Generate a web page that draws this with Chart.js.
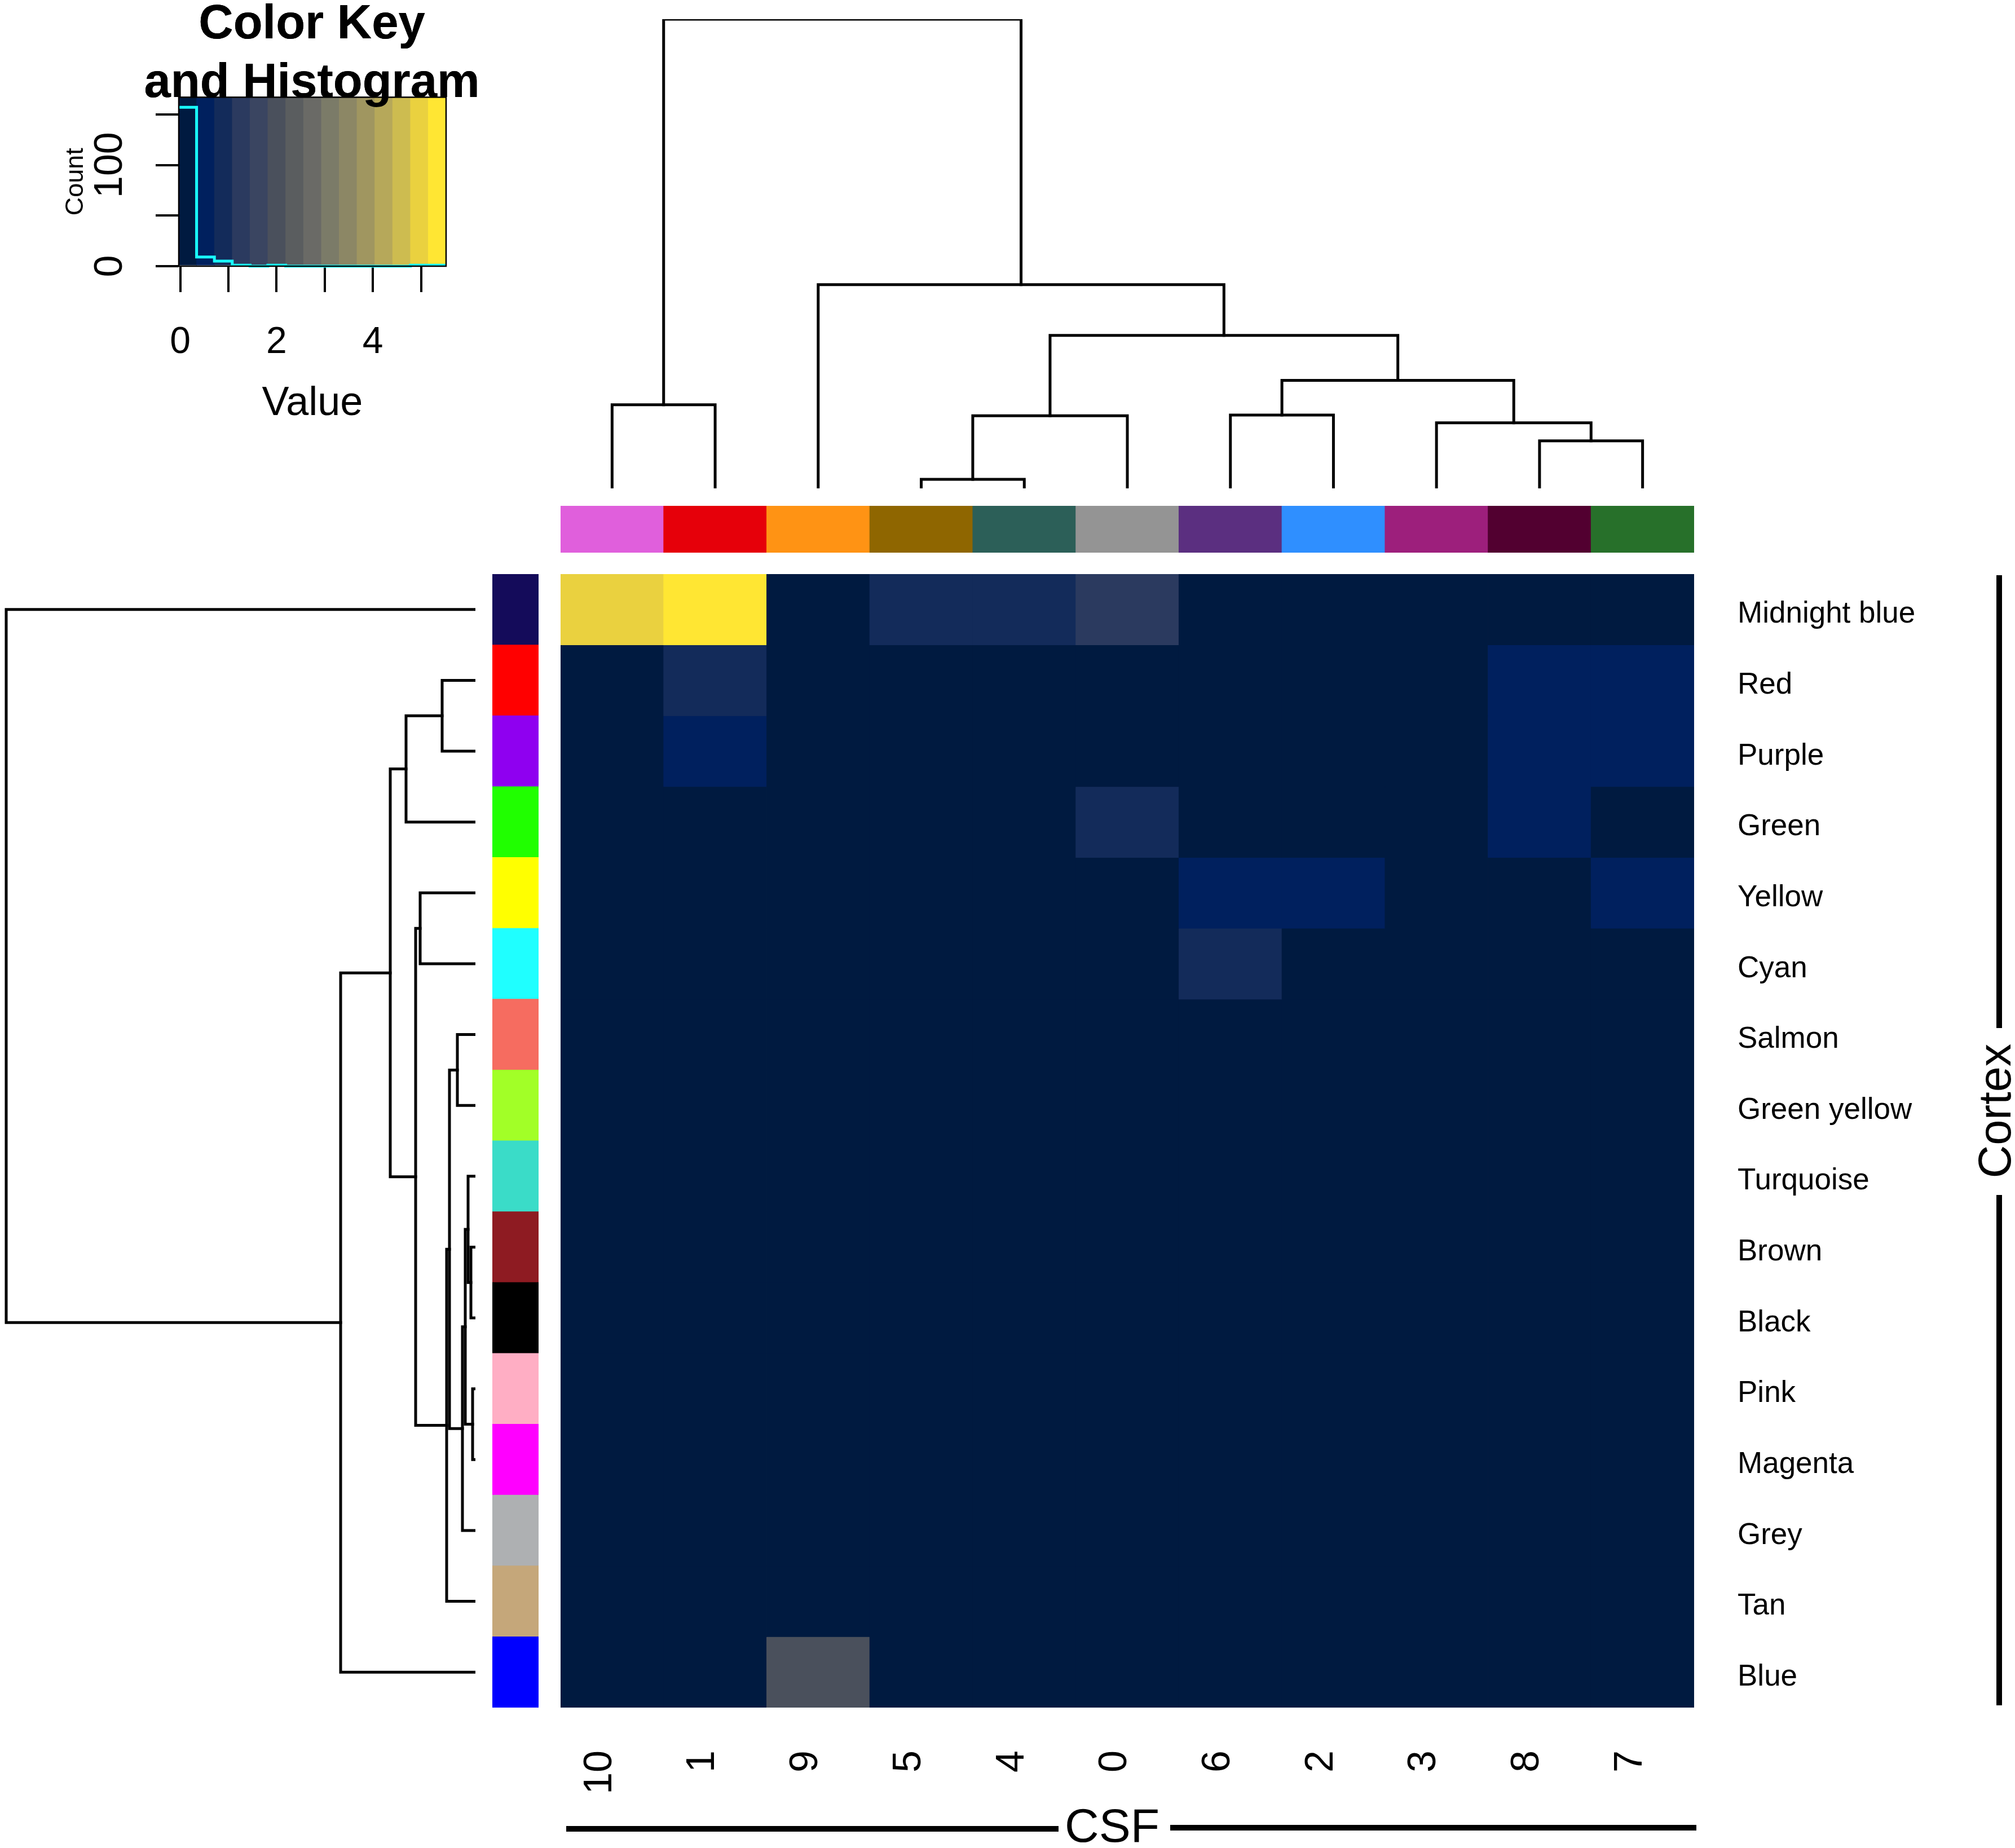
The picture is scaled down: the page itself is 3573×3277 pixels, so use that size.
<!DOCTYPE html>
<html>
<head>
<meta charset="utf-8">
<style>
html,body{margin:0;padding:0;background:#fff;width:3573px;height:3277px;overflow:hidden}
canvas{position:absolute;display:block}
</style>
<script src="https://cdn.jsdelivr.net/npm/chart.js@4"></script>
</head>
<body>
<canvas id="key" width="1108" height="800" style="left:0;top:0"></canvas>
<canvas id="colTree" width="2010" height="832" style="left:994px;top:34px"></canvas>
<canvas id="colStrip" width="2010" height="83" style="left:994px;top:897px"></canvas>
<canvas id="rowTree" width="843" height="2010" style="left:0;top:1018px"></canvas>
<canvas id="rowStrip" width="82" height="2010" style="left:873px;top:1018px"></canvas>
<canvas id="heat" width="2579" height="2259" style="left:994px;top:1018px"></canvas>
<script>
const FONT = '"Liberation Sans", Arial, sans-serif';

const colLabels = ['10','1','9','5','4','0','6','2','3','8','7'];
const colColors = ['#E05FDC','#E6000A','#FF9314','#8F6600','#2C5F58','#949494','#5B2F80','#2F8FFF','#9D1F7C','#520030','#27702A'];
const rowLabels = ['Midnight blue','Red','Purple','Green','Yellow','Cyan','Salmon','Green yellow','Turquoise','Brown','Black','Pink','Magenta','Grey','Tan','Blue'];
const rowColors = ['#140B5A','#FF0000','#8F00F0','#20FF00','#FFFF00','#1FFFFF','#F66C60','#A2FF27','#3ADCC8','#8E1B22','#000000','#FFAEC4','#FF00FF','#AEB0B2','#C5A77A','#0000FF'];

const rowMidnightBlue = [5.0,5.4,0,0.9,0.9,1.3,0,0,0,0,0];
const rowRed          = [0,0.9,0,0,0,0,0,0,0,0.5,0.5];
const rowPurple       = [0,0.5,0,0,0,0,0,0,0,0.5,0.5];
const rowGreen        = [0,0,0,0,0,0.9,0,0,0,0.5,0];
const rowYellow       = [0,0,0,0,0,0,0.5,0.5,0,0,0.5];
const rowCyan         = [0,0,0,0,0,0,0.9,0,0,0,0];
const rowSalmon       = [0,0,0,0,0,0,0,0,0,0,0];
const rowGreenYellow  = [0,0,0,0,0,0,0,0,0,0,0];
const rowTurquoise    = [0,0,0,0,0,0,0,0,0,0,0];
const rowBrown        = [0,0,0,0,0,0,0,0,0,0,0];
const rowBlack        = [0,0,0,0,0,0,0,0,0,0,0];
const rowPink         = [0,0,0,0,0,0,0,0,0,0,0];
const rowMagenta      = [0,0,0,0,0,0,0,0,0,0,0];
const rowGrey         = [0,0,0,0,0,0,0,0,0,0,0];
const rowTan          = [0,0,0,0,0,0,0,0,0,0,0];
const rowBlue         = [0,0,2.0,0,0,0,0,0,0,0,0];
const matrix = [rowMidnightBlue,rowRed,rowPurple,rowGreen,rowYellow,rowCyan,rowSalmon,rowGreenYellow,rowTurquoise,rowBrown,rowBlack,rowPink,rowMagenta,rowGrey,rowTan,rowBlue];

const keyBreaks = [-0.03,0.34,0.71,1.08,1.45,1.82,2.19,2.56,2.93,3.30,3.67,4.04,4.41,4.78,5.15,5.52];
const keyColors = ['#001A40','#00205E','#132B5A','#2B3A5F','#3A4561','#4A505C','#5A5D5F','#6A6A66','#7B7B68','#8C8765','#A09660','#B6A85A','#CDBC50','#EAD13F','#FFE633'];
const keyCounts = [157,9,5,1,0,1,0,0,0,0,0,0,0,1,1];
const keyXTicks = [0,1,2,3,4,5];
const keyYTicks = [0,50,100,150];

const colMergeA = [-1,-4,2,-7,-10,-9,4,3,-3,1];
const colMergeB = [-2,-5,-6,-8,-11,5,6,7,8,9];
const colMergeH = [65,7,56.5,57,37,51,84,119,158.5,365];

const rowMergeA = [-10,-12,-9,3,4,-7,6,7,-5,9,-2,11,12,13,-1];
const rowMergeB = [-11,-13,1,2,-14,-8,5,-15,-6,8,-3,-4,10,-16,14];
const rowMergeH = [8,5,13,18,23,32,46,51,98,106,59,123,151,239,832];

function colorOf(v){
  for(let i=0;i<keyColors.length;i++){ if(v<keyBreaks[i+1]) return keyColors[i]; }
  return keyColors[keyColors.length-1];
}
function treeLines(A,B,H,vertical){
  const pos=[],hgt=[],out=[];
  const get=n=>n<0?{p:-n-1,h:0}:{p:pos[n-1],h:hgt[n-1]};
  A.forEach((a,i)=>{
    const l=get(a),r=get(B[i]),h=H[i];
    pos[i]=(l.p+r.p)/2; hgt[i]=h;
    const pts=[[l.p,l.h],[l.p,h],[r.p,h],[r.p,r.h]];
    out.push({
      data:pts.map(q=>vertical?{x:q[0],y:q[1]}:{x:q[1],y:q[0]}),
      showLine:true,pointRadius:0,borderColor:'#000',borderWidth:5,tension:0,clip:false,
      borderCapStyle:'square',borderJoinStyle:'miter'
    });
  });
  return out;
}
const noPad=s=>{s.paddingLeft=0;s.paddingRight=0;s.paddingTop=0;s.paddingBottom=0;};
const base={responsive:false,animation:false,devicePixelRatio:1,maintainAspectRatio:false,
  events:[],plugins:{legend:{display:false},tooltip:{enabled:false},title:{display:false}},layout:{padding:0}};
const hidden=(o)=>Object.assign({display:false},o);

/* column dendrogram */
new Chart(document.getElementById('colTree'),{type:'scatter',
  data:{datasets:treeLines(colMergeA,colMergeB,colMergeH,true)},
  options:{...base,scales:{x:hidden({type:'linear',min:-0.5,max:10.5}),y:hidden({type:'linear',min:0,max:365})}}});

/* row dendrogram */
new Chart(document.getElementById('rowTree'),{type:'scatter',
  data:{datasets:treeLines(rowMergeA,rowMergeB,rowMergeH,false)},
  options:{...base,scales:{x:hidden({type:'linear',min:0,max:843,reverse:true}),y:hidden({type:'linear',min:-0.5,max:15.5,reverse:true})}}});

/* column colour strip */
new Chart(document.getElementById('colStrip'),{type:'bar',
  data:{labels:colLabels,datasets:[{data:colLabels.map(()=>1),backgroundColor:colColors,barPercentage:1,categoryPercentage:1,borderWidth:0,inflateAmount:0.4}]},
  options:{...base,scales:{x:hidden({type:'category'}),y:hidden({min:0,max:1})}}});

/* row colour strip */
new Chart(document.getElementById('rowStrip'),{type:'bar',
  data:{labels:rowLabels,datasets:[{data:rowLabels.map(()=>1),backgroundColor:rowColors,barPercentage:1,categoryPercentage:1,borderWidth:0,inflateAmount:0.4}]},
  options:{...base,indexAxis:'y',scales:{y:hidden({type:'category'}),x:hidden({min:0,max:1})}}});

/* heatmap */
const heatDecor={id:'heatDecor',afterDraw(chart){
  const c=chart.ctx,ox=994,oy=1018;
  c.save();
  c.fillStyle='#000';
  c.fillRect(1004-ox,3238-oy,873,10);
  c.fillRect(2075-ox,3236-oy,933,10);
  c.fillRect(3540-ox,1020-oy,10,803);
  c.fillRect(3540-ox,2119-oy,10,905);
  c.font='84px '+FONT;c.textAlign='center';c.textBaseline='middle';
  c.fillText('CSF',1972-ox,3243-oy);
  c.translate(3543-ox,1970-oy);c.rotate(-Math.PI/2);
  c.font='81px '+FONT;
  c.fillText('Cortex',0,0);
  c.restore();
}};
new Chart(document.getElementById('heat'),{type:'bar',
  data:{labels:colLabels,datasets:matrix.map((row,i)=>({
    label:rowLabels[i],
    data:row.map(()=>[i,i+1]),
    backgroundColor:row.map(colorOf),
    barPercentage:1,categoryPercentage:1,grouped:false,borderWidth:0,inflateAmount:0.4
  }))},
  options:{...base,
    scales:{
      x:{type:'category',position:'bottom',
        grid:{display:false,drawTicks:false},border:{display:false},
        ticks:{autoSkip:false,minRotation:90,maxRotation:90,padding:76,color:'#000',font:{family:FONT,size:70},labelOffset:-21},
        afterFit(s){s.height=249;noPad(s);}},
      y:{type:'linear',position:'right',min:0,max:16,reverse:true,
        grid:{display:false,drawTicks:false},border:{display:false},
        ticks:{autoSkip:false,padding:77,color:'#000',font:{family:FONT,size:53},labelOffset:9,
          callback:(v,i)=>rowLabels[i]},
        afterBuildTicks(s){s.ticks=rowLabels.map((_,i)=>({value:i+0.5}));},
        afterFit(s){s.width=569;noPad(s);}}
    }},
  plugins:[heatDecor]});

/* colour key and histogram */
const keyTop={id:'keyTop',
  afterLayout(chart){const t=chart.titleBlock;t.left=0;t.right=1106;},
  afterDatasetsDraw(chart){
    const a=chart.chartArea,c=chart.ctx;
    c.save();c.strokeStyle='#000';c.lineWidth=2.5;c.strokeRect(a.left,a.top,a.right-a.left,a.bottom-a.top);c.restore();
    chart.titleBlock.draw();
  }};
new Chart(document.getElementById('key'),{type:'bar',
  data:{datasets:[
    {type:'line',order:0,data:keyBreaks.map((b,i)=>({x:b,y:keyCounts[Math.min(i,keyCounts.length-1)]})),
      borderColor:'#19FFFF',borderWidth:5,pointRadius:0,stepped:true,clip:false,borderJoinStyle:'miter',fill:false},
    {type:'bar',order:1,data:keyColors.map((_,i)=>({x:(keyBreaks[i]+keyBreaks[i+1])/2,y:167})),
      backgroundColor:keyColors,barPercentage:1,categoryPercentage:1,borderWidth:0,inflateAmount:0.4}
  ]},
  options:{...base,
    layout:{padding:{right:317}},
    plugins:{...base.plugins,
      title:{display:true,text:['Color Key','and Histogram'],color:'#000',
        font:{family:FONT,size:85,weight:'bold',lineHeight:1.22},padding:{top:-7,bottom:-28}}},
    scales:{
      x:{type:'linear',min:-0.03,max:5.52,position:'bottom',offset:false,
        grid:{offset:false,drawOnChartArea:false,color:'#000',lineWidth:4,tickLength:46},border:{display:false},
        ticks:{autoSkip:false,maxRotation:0,padding:50,color:'#000',font:{family:FONT,size:66},
          callback:(v)=>(v%2===0?String(v):'')},
        afterBuildTicks(s){s.ticks=keyXTicks.map(v=>({value:v}));},
        title:{display:true,text:'Value',color:'#000',font:{family:FONT,size:72},padding:{top:0,bottom:41}},
        afterFit(s){s.height=328;noPad(s);}},
      y:{type:'linear',min:0,max:167,position:'left',
        grid:{drawOnChartArea:false,color:'#000',lineWidth:4,tickLength:41},border:{display:false},
        ticks:{autoSkip:false,minRotation:90,maxRotation:90,crossAlign:'center',padding:21,color:'#000',font:{family:FONT,size:70},
          callback:(v)=>(v%100===0?String(v):'')},
        afterBuildTicks(s){s.ticks=keyYTicks.map(v=>({value:v}));},
        title:{display:true,text:'Count',color:'#000',font:{family:FONT,size:45},padding:{top:108,bottom:0}},
        afterFit(s){s.width=317;noPad(s);}}
    }},
  plugins:[keyTop]});
</script>
</body>
</html>
